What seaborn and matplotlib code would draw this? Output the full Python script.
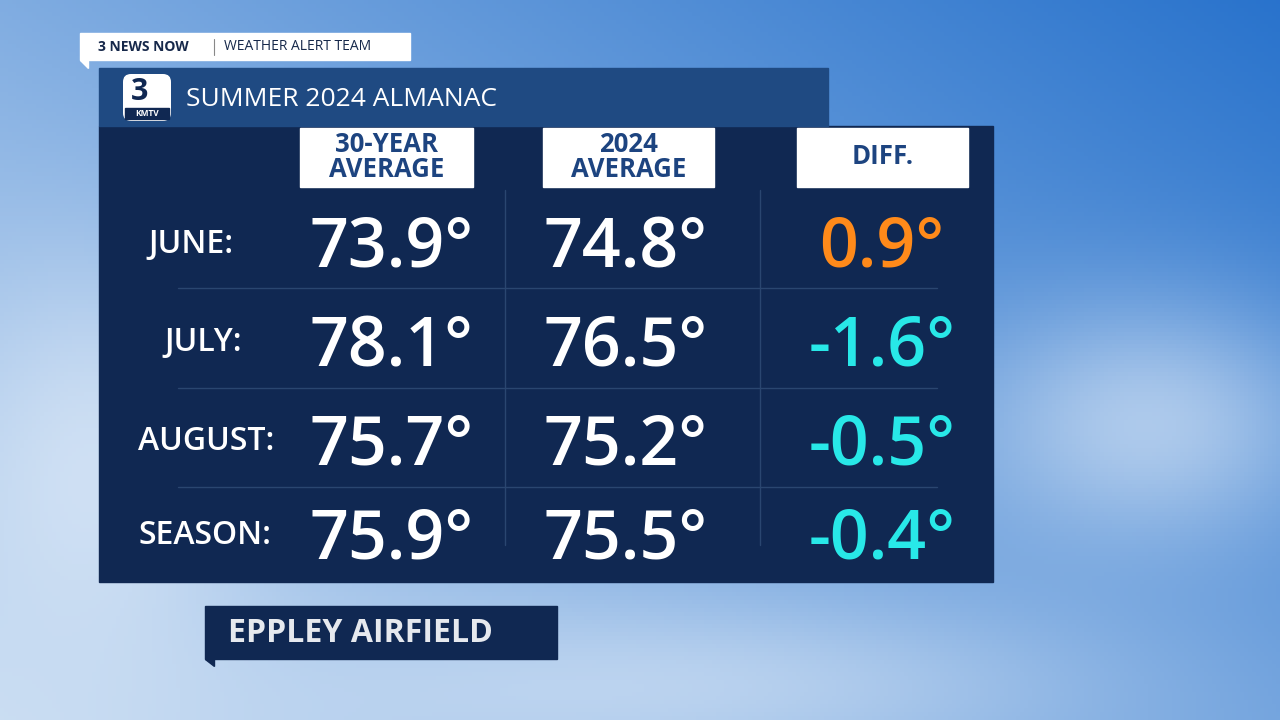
import numpy as np
import matplotlib
matplotlib.use("Agg")
import matplotlib.pyplot as plt
import seaborn as sns
from matplotlib.patches import Rectangle, FancyBboxPatch, Polygon

months = ["JUNE:", "JULY:", "AUGUST:", "SEASON:"]
avg30 = [73.9, 78.1, 75.7, 75.9]
avg2024 = [74.8, 76.5, 75.2, 75.5]
diff = [0.9, -1.6, -0.5, -0.4]
headers = ["30-YEAR\nAVERAGE", "2024\nAVERAGE", "DIFF."]

sns.set_theme(style="white")
plt.rcParams['font.family'] = ['Open Sans', 'DejaVu Sans']

fig = plt.figure(figsize=(12.8, 7.2), dpi=100)
ax = fig.add_axes([0, 0, 1, 1])
ax.set_xlim(0, 1280); ax.set_ylim(720, 0); ax.axis("off")

# sky background
yy, xx = np.mgrid[0:720:4, 0:1280:4]
t = np.clip(0.55 * xx / 1280 + 0.45 * (1 - yy / 720), 0, 1)
c0 = np.array([0.78, 0.86, 0.95]); c1 = np.array([0.16, 0.45, 0.80])
img = c0 + (c1 - c0) * t[..., None]
cloud = np.exp(-(((xx - 1150) / 180) ** 2 + ((yy - 420) / 120) ** 2)) * 0.5 \
      + np.exp(-(((xx - 100) / 150) ** 2 + ((yy - 450) / 200) ** 2)) * 0.45 \
      + np.exp(-(((xx - 700) / 400) ** 2 + ((yy - 680) / 80) ** 2)) * 0.35
img = img + (1 - img) * np.clip(cloud, 0, 1)[..., None]
ax.imshow(img, extent=(0, 1280, 720, 0), aspect="auto", zorder=0)

navy = "#102852"
ax.add_patch(Rectangle((99, 126), 894, 456, color=navy, zorder=1))
ax.add_patch(Rectangle((99, 68), 729, 58, color="#1f4a82", zorder=1))
ax.add_patch(Rectangle((80, 33), 330, 27, color="white", zorder=1))
ax.add_patch(Polygon([(80, 60), (88, 60), (88, 68)], color="white", zorder=1))
ax.text(98, 47, "3 NEWS NOW", fontsize=10, weight="bold", color="#16284a", va="center", zorder=2)
ax.plot([214, 214], [39, 55], color="#888888", lw=0.8, zorder=2)
ax.text(224, 47, "WEATHER ALERT TEAM", fontsize=10, color="#16284a", va="center", zorder=2)

# logo
ax.add_patch(FancyBboxPatch((123, 74), 48, 47, boxstyle="round,pad=0,rounding_size=8",
                            facecolor="white", edgecolor="none", zorder=2))
ax.text(140, 92, "3", fontsize=22, weight="bold", color=navy, ha="center", va="center", zorder=3)
ax.add_patch(Rectangle((125, 108), 44, 11, color=navy, zorder=3))
ax.text(147, 114, "KMTV", fontsize=6, weight="bold", color="white", ha="center", va="center", zorder=4)
ax.text(186, 99, "SUMMER 2024 ALMANAC", fontsize=19, color="white", va="center", zorder=2)

# headers
col_x = [388, 628, 882]
box = [(300, 473), (543, 714), (797, 968)]
for (x0, x1), cx, h in zip(box, col_x, headers):
    ax.add_patch(Rectangle((x0, 128), x1 - x0, 59, color="white", zorder=2))
    ax.text((x0 + x1) / 2, 157, h, fontsize=18.5, weight="bold", color="#1d4480",
            ha="center", va="center", linespacing=0.9, zorder=3)

# grid lines
for y in [288, 388, 487]:
    ax.plot([178, 937], [y, y], color="#2a4670", lw=1, zorder=2)
for x in [505, 760]:
    ax.plot([x, x], [190, 545], color="#2a4670", lw=1, zorder=2)

rows_y = [249, 348, 447, 541]
lab_x = [191, 203, 206, 205]
for i, m in enumerate(months):
    y = rows_y[i]
    ax.text(lab_x[i], y - 5, m, fontsize=23, weight="semibold", color="white", ha="center", va="center", zorder=3)
    ax.text(col_x[0] + 4, y, f"{avg30[i]:.1f}°", fontsize=49, weight="semibold", color="white",
            ha="center", va="center", zorder=3)
    ax.text(col_x[1] - 2, y, f"{avg2024[i]:.1f}°", fontsize=49, weight="semibold", color="white",
            ha="center", va="center", zorder=3)
    col = "#ff8a1a" if diff[i] > 0 else "#28e8e8"
    ax.text(col_x[2], y, f"{diff[i]:.1f}°", fontsize=49, weight="semibold", color=col,
            ha="center", va="center", zorder=3)

# bottom tag
ax.add_patch(Rectangle((205, 606), 352, 53, color=navy, zorder=1))
ax.add_patch(Polygon([(205, 659), (214, 659), (214, 666)], color=navy, zorder=1))
ax.text(228, 634, "EPPLEY AIRFIELD", fontsize=23, weight="bold", color="#e6e9ee",
        ha="left", va="center", zorder=2)

fig.savefig("out.png", dpi=100)
